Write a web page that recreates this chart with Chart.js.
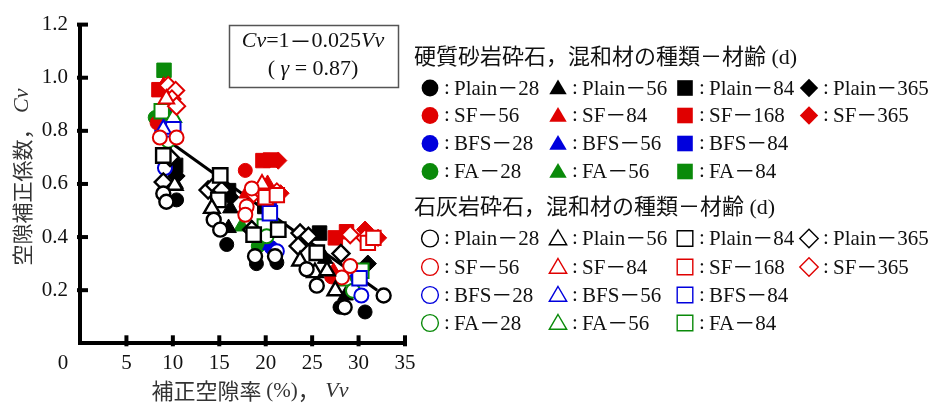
<!DOCTYPE html>
<html>
<head>
<meta charset="utf-8">
<script src="https://cdn.jsdelivr.net/npm/chart.js@4/dist/chart.umd.min.js"></script>
<style>
  html, body { margin: 0; padding: 0; background: #fff; }
  #wrap { width: 949px; height: 403px; position: relative; }
</style>
</head>
<body>
<div id="wrap"><canvas id="c" width="949" height="403"></canvas></div>
<script>
// 硬質砂岩砕石 (filled markers): [補正空隙率 Vv (%), 空隙補正係数 Cv]
const hsPlain28  = [[10.4,0.54],[15.8,0.372],[19.0,0.30],[21.2,0.304],[28.0,0.136],[30.7,0.118]];
const hsPlain56  = [[10.3,0.60],[16.2,0.508],[16.0,0.434],[26.4,0.318],[28.6,0.18]];
const hsPlain84  = [[10.3,0.67],[16.0,0.575],[19.9,0.515],[25.8,0.415]];
const hsPlain365 = [[10.4,0.63],[16.2,0.55],[24.0,0.40],[31.0,0.30]];
const hsSF56     = [[8.3,0.83],[17.8,0.651],[27.1,0.25]];
const hsSF84     = [[9.0,0.97],[17.95,0.564],[20.2,0.60],[27.3,0.27]];
const hsSF168    = [[8.5,0.955],[19.7,0.688],[20.5,0.69],[27.5,0.397],[28.7,0.42]];
const hsSF365    = [[8.9,0.96],[21.35,0.688],[21.6,0.565],[30.7,0.428],[32.1,0.397]];
const hsBFS28    = [[8.8,0.80],[20.6,0.36],[29.8,0.24]];
const hsBFS56    = [[9.1,0.81],[20.5,0.37],[29.6,0.25]];
const hsBFS84    = [[9.8,0.90],[20.4,0.50],[30.0,0.25]];
const hsFA28     = [[8.1,0.85],[19.2,0.366]];
const hsFA56     = [[9.9,0.86],[17.4,0.44]];
const hsFA84     = [[9.05,1.028]];

// 石灰岩砕石 (open markers)
const lsPlain28  = [[8.97,0.564],[9.3,0.533],[14.4,0.465],[15.1,0.428],[18.85,0.328],[21.0,0.328],[24.4,0.279],[25.5,0.217],[28.5,0.136],[32.7,0.18]];
const lsPlain56  = [[10.2,0.595],[14.2,0.508],[23.7,0.31],[25.3,0.266],[26.6,0.273],[27.5,0.198]];
const lsPlain84  = [[8.97,0.707],[15.1,0.632],[14.9,0.54],[18.7,0.409],[21.35,0.428],[25.5,0.341]];
const lsPlain365 = [[9.7,0.70],[8.97,0.607],[13.8,0.577],[14.5,0.595],[15.26,0.577],[18.5,0.428],[23.7,0.415],[24.6,0.403],[23.5,0.366],[28.1,0.338]];
const lsSF56     = [[8.6,0.775],[10.4,0.775],[18.5,0.583],[17.95,0.515],[17.8,0.484],[29.1,0.291],[28.2,0.248]];
const lsSF84     = [[9.3,0.92],[19.6,0.60]];
const lsSF168    = [[20.0,0.55],[21.2,0.558],[31.0,0.378],[31.6,0.397]];
const lsSF365    = [[9.5,0.971],[10.3,0.952],[9.9,0.92],[10.4,0.893],[18.7,0.564],[19.55,0.570],[21.2,0.570],[29.1,0.409],[30.7,0.397]];
const lsBFS28    = [[9.15,0.66],[21.2,0.347],[30.3,0.18]];
const lsBFS56    = [[8.97,0.806]];
const lsBFS84    = [[10.05,0.806],[20.45,0.49],[30.1,0.245]];
const lsFA28     = [[9.5,0.763],[20.1,0.403],[29.4,0.198]];
const lsFA56     = [[10.05,0.85],[21.2,0.434],[28.7,0.235]];
const lsFA84     = [[8.8,0.874],[19.9,0.44],[30.3,0.273]];

// Regression Cv = 1 - 0.025 Vv over the plotted range
const fitIntercept = 1;
const fitSlope = -0.025;
const fitRange = [9.8, 32.0];

// Tick labels
const xTicks = [5, 10, 15, 20, 25, 30, 35];
const yTicks = [0.2, 0.4, 0.6, 0.8, 1.0, 1.2];

const BLACK = '#000000', RED = '#e00000', BLUE = '#0000dd', GREEN = '#0a8a0a';
const SERIF = '"Liberation Serif","Noto Sans CJK JP",serif';
const CJK = '"Noto Sans CJK JP",sans-serif';

// series: data, mix, age, shape, colour
const hsSeries = [
  [hsPlain28, 'Plain', 28, 'circle', BLACK], [hsPlain56, 'Plain', 56, 'triangle', BLACK],
  [hsPlain84, 'Plain', 84, 'rect', BLACK], [hsPlain365, 'Plain', 365, 'rectRot', BLACK],
  [hsSF56, 'SF', 56, 'circle', RED], [hsSF84, 'SF', 84, 'triangle', RED],
  [hsSF168, 'SF', 168, 'rect', RED], [hsSF365, 'SF', 365, 'rectRot', RED],
  [hsBFS28, 'BFS', 28, 'circle', BLUE], [hsBFS56, 'BFS', 56, 'triangle', BLUE],
  [hsBFS84, 'BFS', 84, 'rect', BLUE],
  [hsFA28, 'FA', 28, 'circle', GREEN], [hsFA56, 'FA', 56, 'triangle', GREEN],
  [hsFA84, 'FA', 84, 'rect', GREEN]
];
const lsSeries = [
  [lsPlain28, 'Plain', 28, 'circle', BLACK], [lsPlain56, 'Plain', 56, 'triangle', BLACK],
  [lsPlain84, 'Plain', 84, 'rect', BLACK], [lsPlain365, 'Plain', 365, 'rectRot', BLACK],
  [lsSF56, 'SF', 56, 'circle', RED], [lsSF84, 'SF', 84, 'triangle', RED],
  [lsSF168, 'SF', 168, 'rect', RED], [lsSF365, 'SF', 365, 'rectRot', RED],
  [lsBFS28, 'BFS', 28, 'circle', BLUE], [lsBFS56, 'BFS', 56, 'triangle', BLUE],
  [lsBFS84, 'BFS', 84, 'rect', BLUE],
  [lsFA28, 'FA', 28, 'circle', GREEN], [lsFA56, 'FA', 56, 'triangle', GREEN],
  [lsFA84, 'FA', 84, 'rect', GREEN]
];

const RADIUS = { circle: 7, triangle: 9, rect: 10.2, rectRot: 8.6 };
const MIX_ROW = { Plain: 0, SF: 1, BFS: 2, FA: 3 };
const SHAPE_COL = { circle: 0, triangle: 1, rect: 2, rectRot: 3 };

function toPoints(arr) { return arr.map(p => ({ x: p[0], y: p[1] })); }

const datasets = [];
lsSeries.forEach(s => datasets.push({
  type: 'scatter', label: '石灰岩 ' + s[1] + '－' + s[2], data: toPoints(s[0]),
  pointStyle: s[3], pointRadius: RADIUS[s[3]], backgroundColor: '#ffffff',
  borderColor: s[4], borderWidth: s[4] === BLACK ? 2.4 : 2, order: 10
}));
hsSeries.forEach(s => datasets.push({
  type: 'scatter', label: '硬質砂岩 ' + s[1] + '－' + s[2], data: toPoints(s[0]),
  pointStyle: s[3], pointRadius: RADIUS[s[3]], backgroundColor: s[4],
  borderColor: s[4], borderWidth: 1, order: 50
}));
datasets.push({
  type: 'line', label: 'fit',
  data: fitRange.map(v => ({ x: v, y: fitIntercept + fitSlope * v })),
  borderColor: '#000', borderWidth: 3, pointRadius: 0, fill: false, order: 100
});

function drawRuns(ctx, parts, x, y, align) {
  let w = 0;
  parts.forEach(p => { ctx.font = p.f; p.w = ctx.measureText(p.t).width; w += p.w; });
  let cx = align === 'center' ? x - w / 2 : (align === 'right' ? x - w : x);
  ctx.textAlign = 'left';
  ctx.textBaseline = 'middle';
  parts.forEach(p => { ctx.font = p.f; ctx.fillText(p.t, cx, y); cx += p.w; });
}

function legendMark(ctx, shape, x, y, color, filled) {
  ctx.beginPath();
  if (shape === 'circle') ctx.arc(x, y, 8.4, 0, Math.PI * 2);
  else if (shape === 'triangle') { ctx.moveTo(x, y - 8.5); ctx.lineTo(x + 8.7, y + 6.3); ctx.lineTo(x - 8.7, y + 6.3); ctx.closePath(); }
  else if (shape === 'rect') ctx.rect(x - 7.8, y - 7.8, 15.6, 15.6);
  else { ctx.moveTo(x, y - 9.2); ctx.lineTo(x + 9.2, y); ctx.lineTo(x, y + 9.2); ctx.lineTo(x - 9.2, y); ctx.closePath(); }
  if (filled) { ctx.fillStyle = color; ctx.fill(); }
  else { ctx.strokeStyle = color; ctx.lineWidth = 1.4; ctx.stroke(); }
}

const decor = {
  id: 'decor',
  afterDraw(chart) {
    const ctx = chart.ctx;
    const xs = chart.scales.x, ys = chart.scales.y;
    ctx.save();
    // inward tick marks
    ctx.strokeStyle = '#000';
    ctx.lineWidth = 4;
    ctx.lineCap = 'butt';
    yTicks.forEach(v => {
      const py = ys.getPixelForValue(v);
      ctx.beginPath(); ctx.moveTo(xs.left - 3, py); ctx.lineTo(xs.left + 8, py); ctx.stroke();
    });
    xTicks.forEach(v => {
      const px = xs.getPixelForValue(v);
      ctx.beginPath(); ctx.moveTo(px, ys.bottom + 3); ctx.lineTo(px, ys.bottom - 8); ctx.stroke();
    });
    // origin label
    ctx.fillStyle = '#111';
    ctx.font = '21px ' + SERIF;
    ctx.textAlign = 'center'; ctx.textBaseline = 'middle';
    ctx.fillText('0', 63, 363);

    // axis titles
    ctx.fillStyle = '#333';
    drawRuns(ctx, [
      { t: '補正空隙率 ', f: '22px ' + CJK },
      { t: '(%)', f: '21px ' + SERIF },
      { t: '，', f: '22px ' + CJK },
      { t: ' V', f: 'italic 22px ' + SERIF },
      { t: 'v', f: 'italic 22px ' + SERIF }
    ], 250, 391, 'center');
    ctx.save();
    ctx.translate(22, 177);
    ctx.rotate(-Math.PI / 2);
    drawRuns(ctx, [
      { t: '空隙補正係数，', f: '21px ' + CJK },
      { t: ' C', f: 'italic 22px ' + SERIF },
      { t: 'v', f: 'italic 22px ' + SERIF }
    ], 0, 0, 'center');
    ctx.restore();

    // equation box
    ctx.strokeStyle = '#555';
    ctx.lineWidth = 1.5;
    ctx.strokeRect(229.5, 25.5, 169, 62);
    ctx.fillStyle = '#111';
    drawRuns(ctx, [
      { t: 'C', f: 'italic 22px ' + SERIF },
      { t: 'v', f: 'italic 22px ' + SERIF },
      { t: '=1', f: '22px ' + SERIF },
      { t: '－', f: '22px ' + CJK },
      { t: '0.025', f: '22px ' + SERIF },
      { t: 'V', f: 'italic 22px ' + SERIF },
      { t: 'v', f: 'italic 22px ' + SERIF }
    ], 313, 41, 'center');
    drawRuns(ctx, [
      { t: '( ', f: '22px ' + SERIF },
      { t: 'γ', f: 'italic 22px ' + SERIF },
      { t: ' = 0.87)', f: '22px ' + SERIF }
    ], 313, 69, 'center');

    // legend
    const colX = [430, 558, 685, 809];
    const groups = [
      { title: '硬質砂岩砕石，混和材の種類－材齢 (d)', ty: 58, rows: [88, 115.5, 143.5, 171.5], list: hsSeries, filled: true },
      { title: '石灰岩砕石，混和材の種類－材齢 (d)', ty: 208, rows: [238.5, 267, 295, 323], list: lsSeries, filled: false }
    ];
    groups.forEach(g => {
      ctx.fillStyle = '#111';
      drawRuns(ctx, [{ t: g.title, f: '22px ' + SERIF }], 414, g.ty, 'left');
      g.list.forEach(s => {
        const x = colX[SHAPE_COL[s[3]]];
        const y = g.rows[MIX_ROW[s[1]]];
        legendMark(ctx, s[3], x, y, s[4], g.filled);
        ctx.fillStyle = '#111';
        drawRuns(ctx, [{ t: ':', f: '21px ' + SERIF }], x + 14, y, 'left');
        drawRuns(ctx, [{ t: s[1] + '－' + s[2], f: '21px ' + SERIF }], x + 24, y + 1, 'left');
      });
    });
    ctx.restore();
  }
};

new Chart(document.getElementById('c'), {
  data: { datasets },
  options: {
    responsive: false,
    devicePixelRatio: 1,
    animation: false,
    events: [],
    layout: { padding: { top: 20.7, right: 544, left: 0, bottom: 0 } },
    plugins: { legend: { display: false }, tooltip: { enabled: false } },
    scales: {
      x: {
        type: 'linear', position: 'bottom', min: 0, max: 35,
        afterFit: s => { s.height = 59.7; },
        afterBuildTicks: s => { s.ticks = [0].concat(xTicks).map(v => ({ value: v })); },
        ticks: {
          color: '#111', padding: 8, maxRotation: 0, autoSkip: false,
          font: { family: SERIF, size: 21 },
          callback: v => (v === 0 ? '' : String(v))
        },
        grid: { display: false, drawTicks: false },
        border: { display: true, width: 4, color: '#000' }
      },
      y: {
        type: 'linear', position: 'left', min: 0, max: 1.2,
        afterFit: s => { s.width = 80; },
        afterBuildTicks: s => { s.ticks = [0].concat(yTicks).map(v => ({ value: v })); },
        ticks: {
          color: '#111', padding: 12, autoSkip: false,
          font: { family: SERIF, size: 21 },
          callback: v => (v === 0 ? '' : Number(v).toFixed(1))
        },
        grid: { display: false, drawTicks: false },
        border: { display: true, width: 4, color: '#000' }
      }
    }
  },
  plugins: [decor]
});
</script>
</body>
</html>
